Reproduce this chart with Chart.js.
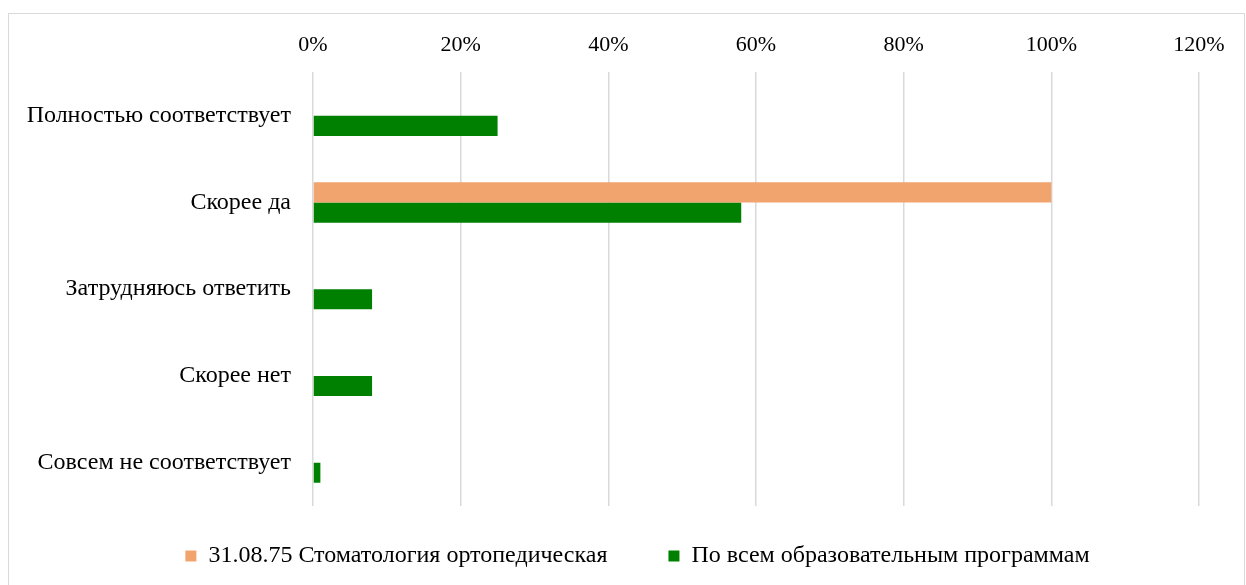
<!DOCTYPE html>
<html><head><meta charset="utf-8">
<script src="https://cdn.jsdelivr.net/npm/chart.js@4"></script>
<style>
html,body{margin:0;padding:0;background:#fff;overflow:hidden;}
#frame{position:absolute;left:8px;top:13px;width:1237px;height:600px;border:1.5px solid #d9d9d9;box-sizing:border-box;}
#wrap{position:absolute;left:0;top:0;width:1246px;height:585px;}
</style></head><body>
<div id="frame"></div>
<div id="wrap"><canvas id="c" width="1246" height="585"></canvas></div>
<script>
const categories = ["Полностью соответствует","Скорее да","Затрудняюсь ответить","Скорее нет","Совсем не соответствует"];
const seriesNames = ["31.08.75 Стоматология ортопедическая","По всем образовательным программам"];
const orthoValues = [0,100,0,0,0];
const allValues = [25,58,8,8,1];
const tickMax = 120;
const tickStep = 20;

const font = "'Liberation Serif','Times New Roman',serif";
const legendShift = {
  id: 'legendShift',
  afterLayout(chart) {
    const l = chart.legend;
    if (!l) return;
    l.left += 38; l.right += 38;
    l.top -= 23;
  }
};
new Chart(document.getElementById('c'), {
  type: 'bar',
  data: {
    labels: categories,
    datasets: [
      {label: seriesNames[0], data: orthoValues, backgroundColor: '#F1A46E', borderWidth: 0},
      {label: seriesNames[1], data: allValues, backgroundColor: '#008000', borderWidth: 0}
    ]
  },
  plugins: [legendShift],
  options: {
    indexAxis: 'y',
    responsive: false,
    animation: false,
    layout: {padding: {left: 0, right: 47, top: 18, bottom: 7}},
    plugins: {
      tooltip: {enabled: false},
      legend: {
        position: 'bottom',
        maxHeight: 72,
        labels: {font: {family: font, size: 24}, color: '#000', boxWidth: 11, boxHeight: 11, padding: 61}
      }
    },
    datasets: {bar: {categoryPercentage: 0.465, barPercentage: 1.0}},
    scales: {
      x: {
        position: 'top',
        min: 0, max: tickMax,
        ticks: {stepSize: tickStep, callback: v => v + '%', font: {family: font, size: 22}, color: '#000', padding: 14},
        grid: {color: '#d9d9d9', lineWidth: 1.5, drawTicks: false},
        border: {display: false}
      },
      y: {
        ticks: {font: {family: font, size: 24}, color: '#000', padding: 22},
        grid: {display: false, drawTicks: false},
        border: {display: false},
        afterFit: s => { s.width = 313; }
      }
    }
  }
});
</script>
</body></html>
